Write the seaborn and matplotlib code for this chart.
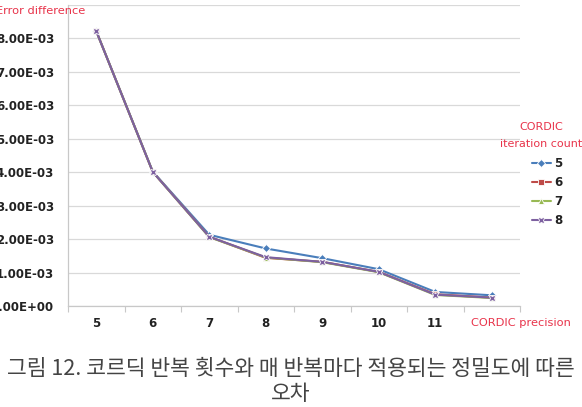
import numpy as np
import pandas as pd
import matplotlib
matplotlib.use("Agg")
import matplotlib.pyplot as plt
import seaborn as sns
from matplotlib.ticker import FixedLocator

# precision values on the x axis (12 is hidden under the axis title)
precision = [5, 6, 7, 8, 9, 10, 11, 12]

# error difference for each CORDIC iteration count
err_5 = [8.22e-3, 4.02e-3, 2.13e-3, 1.72e-3, 1.43e-3, 1.10e-3, 0.42e-3, 0.32e-3]
err_6 = [8.22e-3, 4.01e-3, 2.07e-3, 1.44e-3, 1.32e-3, 1.02e-3, 0.35e-3, 0.25e-3]
err_7 = [8.22e-3, 4.01e-3, 2.06e-3, 1.45e-3, 1.31e-3, 1.01e-3, 0.33e-3, 0.24e-3]
err_8 = [8.22e-3, 4.01e-3, 2.07e-3, 1.46e-3, 1.32e-3, 1.02e-3, 0.34e-3, 0.25e-3]

iter_labels = ["5", "6", "7", "8"]
ytick_vals = [0, 1e-3, 2e-3, 3e-3, 4e-3, 5e-3, 6e-3, 7e-3, 8e-3, 9e-3]

df = pd.DataFrame({
    "precision": precision * 4,
    "error": err_5 + err_6 + err_7 + err_8,
    "iters": sum([[lab] * len(precision) for lab in iter_labels], []),
})

sns.set_theme(style="white")
plt.rcParams["font.family"] = ["DejaVu Sans"]

fig = plt.figure(figsize=(5.82, 4.07), dpi=100)
ax = fig.add_axes([68 / 582, 1 - 306 / 407, (520 - 68) / 582, (306 - 5) / 407])

palette = {"5": "#4A7EBB", "6": "#BE4B48", "7": "#98B954", "8": "#7D60A0"}
markers = {"5": "D", "6": "s", "7": "^", "8": "X"}
sns.lineplot(data=df, x="precision", y="error", hue="iters", style="iters",
             palette=palette, markers=markers, dashes=False,
             markersize=4.5, linewidth=1.5, markeredgewidth=0.6, ax=ax)

ax.set_xlim(4.5, 12.5)
ax.set_ylim(0, 9e-3)
ax.set_xlabel("")
ax.set_ylabel("")

ax.set_yticks(ytick_vals)
ax.set_yticklabels(["0.00E+00"] + [f"{i}.00E-03" for i in range(1, 9)] + [""],
                   fontsize=8.5, fontweight="bold", color="#222222")
ax.tick_params(axis="y", length=0, pad=10)

ax.set_xticks(precision)
ax.set_xticklabels([str(p) for p in precision[:-1]] + [""],
                   fontsize=8.5, fontweight="bold", color="#222222")
ax.xaxis.set_minor_locator(FixedLocator(np.arange(4.5, 13, 1)))
ax.tick_params(axis="x", which="major", length=0, pad=8)
ax.tick_params(axis="x", which="minor", length=4, color="#c8c8c8", width=0.8, bottom=True)

ax.grid(axis="y", color="#d9d9d9", linewidth=0.9)
ax.grid(axis="x", visible=False)
for side in ["top", "right"]:
    ax.spines[side].set_visible(False)
for side in ["left", "bottom"]:
    ax.spines[side].set_color("#c8c8c8")
    ax.spines[side].set_linewidth(0.9)

fig.text(85 / 582, 1 - 11 / 407, "Error difference", ha="right", va="center",
         fontsize=8.2, color="#E8334A")
fig.text(521 / 582, 1 - 323 / 407, "CORDIC precision", ha="center", va="center",
         fontsize=8.2, color="#E8334A")

# legend title drawn on its own so the entries can sit further right
fig.text(541 / 582, 1 - 127 / 407, "CORDIC", ha="center", va="center",
         fontsize=8, color="#E8334A")
fig.text(541 / 582, 1 - 144 / 407, "iteration count", ha="center", va="center",
         fontsize=8, color="#E8334A")

handles, labels = ax.get_legend_handles_labels()
leg = ax.legend(handles, labels, loc="upper left",
                bbox_to_anchor=(532 / 582, 1 - 157 / 407),
                bbox_transform=fig.transFigure, frameon=False,
                fontsize=8.5, handlelength=1.6, handletextpad=0.3,
                labelspacing=0.5, borderaxespad=0, borderpad=0)
for t in leg.get_texts():
    t.set_fontweight("bold")
    t.set_color("#222222")

fig.text(0.5, 1 - 369 / 407, "그림 12. 코르딕 반복 횟수와 매 반복마다 적용되는 정밀도에 따른",
         ha="center", va="center", fontsize=15.5, color="#444444",
         family=["Noto Sans CJK KR", "DejaVu Sans"])
fig.text(0.5, 1 - 394 / 407, "오차", ha="center", va="center", fontsize=15.5,
         color="#444444", family=["Noto Sans CJK KR", "DejaVu Sans"])

fig.savefig("out.png", dpi=100)
